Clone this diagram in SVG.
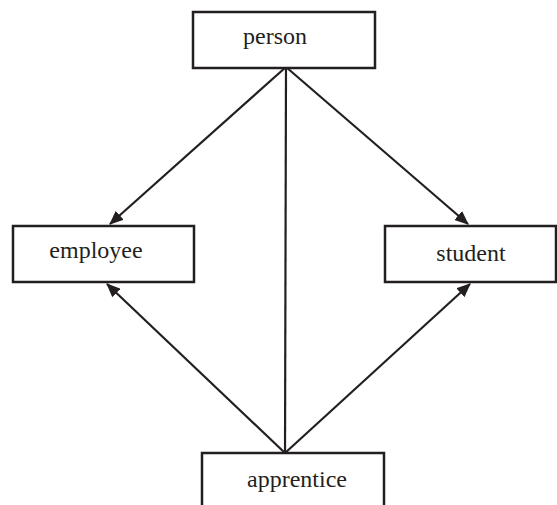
<svg xmlns="http://www.w3.org/2000/svg" width="557" height="505" viewBox="0 0 557 505">
<style>
.box{fill:#ffffff;stroke:#231f20;stroke-width:2.5}
.lbl{font-family:"Liberation Serif","Times New Roman",serif;font-size:24px;fill:#231f20;text-anchor:middle}
.edge{stroke:#231f20;stroke-width:2.2;fill:none}
.arr{marker-end:url(#ah)}
</style>
<defs>
<marker id="ah" markerUnits="userSpaceOnUse" markerWidth="14" markerHeight="12" refX="13" refY="6" orient="auto">
<path d="M0,0 L14,6 L0,12 z" fill="#231f20"/>
</marker>
</defs>
<rect width="557" height="505" fill="#ffffff"/>
<g id="connectors">
<line class="edge arr" x1="286" y1="67" x2="110" y2="224"/>
<line class="edge arr" x1="286" y1="67" x2="468" y2="224"/>
<line class="edge arr" x1="285" y1="453" x2="107" y2="284"/>
<line class="edge arr" x1="285" y1="453" x2="470" y2="284"/>
<line class="edge" x1="286" y1="67" x2="285" y2="453"/>
</g>
<g id="person">
<rect class="box" x="193" y="12" width="182" height="56"/>
<text class="lbl" x="275" y="44">person</text>
</g>
<g id="employee">
<rect class="box" x="13" y="226" width="181" height="56"/>
<text class="lbl" x="96" y="258">employee</text>
</g>
<g id="student">
<rect class="box" x="385" y="226" width="171" height="56"/>
<text class="lbl" x="471" y="261">student</text>
</g>
<g id="apprentice">
<rect class="box" x="202" y="453" width="182" height="70"/>
<text class="lbl" x="297" y="487">apprentice</text>
</g>
</svg>
